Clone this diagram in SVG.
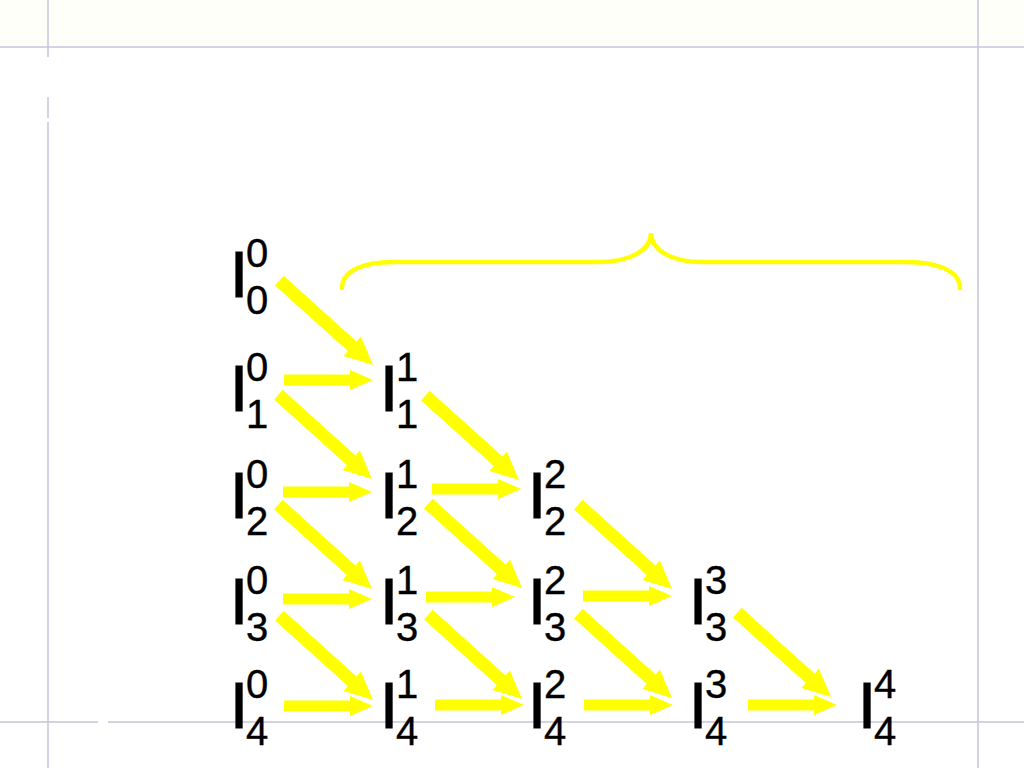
<svg xmlns="http://www.w3.org/2000/svg" xmlns:xlink="http://www.w3.org/1999/xlink" width="1024" height="768" viewBox="0 0 1024 768">
  <style>
    .I { font-family: "Liberation Sans", Arial, sans-serif; font-size: 65px; fill: #000; stroke: #000; stroke-width: 1.2; }
    .d { font-family: "Liberation Sans", Arial, sans-serif; font-size: 40px; fill: #000; stroke: #000; stroke-width: 0.4; }
    .guide { stroke: #c4c4dc; stroke-width: 1.5; fill: none; }
    .arr { fill: #ffff00; }
    .brace { fill: none; stroke: #ffff00; stroke-width: 4.5; stroke-linecap: round; }
  </style>
  <defs>
    <path id="ha" d="M0,0 L-23,-10 L-23,-5.5 L-89,-5.5 L-89,5.5 L-23,5.5 L-23,10 Z"/>
    <path id="da" d="M0,0 L-28,-13 L-28,-6.5 L-126,-6.5 L-126,6.5 L-28,6.5 L-28,13 Z"/>
  </defs>
  <rect x="0" y="0" width="1024" height="768" fill="#ffffff"/>
  <rect x="0" y="0" width="1024" height="47" fill="#fffffa"/>

  <g id="guides">
    <line class="guide" x1="0" y1="47" x2="1024" y2="47"/>
    <line class="guide" x1="48" y1="0" x2="48" y2="57"/>
    <line class="guide" x1="48" y1="97" x2="48" y2="118"/>
    <line class="guide" x1="48" y1="122" x2="48" y2="768"/>
    <line class="guide" x1="978" y1="0" x2="978" y2="768"/>
    <line class="guide" x1="0" y1="722" x2="98" y2="722"/>
    <line class="guide" x1="108" y1="722" x2="1024" y2="722"/>
  </g>

  <g id="brace">
    <path class="brace" d="M342,288 C342,270 365,262 393,262 L599,262 C630,262 651,250 651,233 C651,250 672,262 701,262 L907,262 C935,262 960,270 960,288"/>
  </g>

  <g id="connectors" class="arr">
    <use xlink:href="#ha" transform="translate(373,380)"/>
    <use xlink:href="#ha" transform="translate(372,492)"/>
    <use xlink:href="#ha" transform="translate(521,489)"/>
    <use xlink:href="#ha" transform="translate(372,599)"/>
    <use xlink:href="#ha" transform="translate(515,597)"/>
    <use xlink:href="#ha" transform="translate(672,596)"/>
    <use xlink:href="#ha" transform="translate(373,706)"/>
    <use xlink:href="#ha" transform="translate(524,705)"/>
    <use xlink:href="#ha" transform="translate(673,705)"/>
    <use xlink:href="#ha" transform="translate(837,705)"/>

    <use xlink:href="#da" transform="translate(373,365) rotate(42)"/>
    <use xlink:href="#da" transform="translate(372,479) rotate(42)"/>
    <use xlink:href="#da" transform="translate(519,480) rotate(42)"/>
    <use xlink:href="#da" transform="translate(372,589) rotate(42)"/>
    <use xlink:href="#da" transform="translate(522,588) rotate(42)"/>
    <use xlink:href="#da" transform="translate(672,589) rotate(42)"/>
    <use xlink:href="#da" transform="translate(373,700) rotate(42)"/>
    <use xlink:href="#da" transform="translate(522,699) rotate(42)"/>
    <use xlink:href="#da" transform="translate(672,698) rotate(42)"/>
    <use xlink:href="#da" transform="translate(831,697) rotate(42)"/>
  </g>

  <g id="n0_0"><text class="I" x="230" y="297">I</text><text class="d" x="246" y="267">0</text><text class="d" x="246" y="314">0</text></g>

  <g id="n1_0"><text class="I" x="230" y="411">I</text><text class="d" x="246" y="381">0</text><text class="d" x="246" y="428">1</text></g>
  <g id="n1_1"><text class="I" x="380" y="411">I</text><text class="d" x="396" y="381">1</text><text class="d" x="396" y="428">1</text></g>

  <g id="n2_0"><text class="I" x="230" y="518">I</text><text class="d" x="246" y="488">0</text><text class="d" x="246" y="535">2</text></g>
  <g id="n2_1"><text class="I" x="380" y="518">I</text><text class="d" x="396" y="488">1</text><text class="d" x="396" y="535">2</text></g>
  <g id="n2_2"><text class="I" x="528" y="518">I</text><text class="d" x="544" y="488">2</text><text class="d" x="544" y="535">2</text></g>

  <g id="n3_0"><text class="I" x="230" y="624">I</text><text class="d" x="246" y="594">0</text><text class="d" x="246" y="641">3</text></g>
  <g id="n3_1"><text class="I" x="380" y="624">I</text><text class="d" x="396" y="594">1</text><text class="d" x="396" y="641">3</text></g>
  <g id="n3_2"><text class="I" x="528" y="624">I</text><text class="d" x="544" y="594">2</text><text class="d" x="544" y="641">3</text></g>
  <g id="n3_3"><text class="I" x="689" y="624">I</text><text class="d" x="705" y="594">3</text><text class="d" x="705" y="641">3</text></g>

  <g id="n4_0"><text class="I" x="230" y="728">I</text><text class="d" x="246" y="698">0</text><text class="d" x="246" y="745">4</text></g>
  <g id="n4_1"><text class="I" x="380" y="728">I</text><text class="d" x="396" y="698">1</text><text class="d" x="396" y="745">4</text></g>
  <g id="n4_2"><text class="I" x="528" y="728">I</text><text class="d" x="544" y="698">2</text><text class="d" x="544" y="745">4</text></g>
  <g id="n4_3"><text class="I" x="689" y="728">I</text><text class="d" x="705" y="698">3</text><text class="d" x="705" y="745">4</text></g>
  <g id="n4_4"><text class="I" x="858" y="728">I</text><text class="d" x="874" y="698">4</text><text class="d" x="874" y="745">4</text></g>
</svg>
